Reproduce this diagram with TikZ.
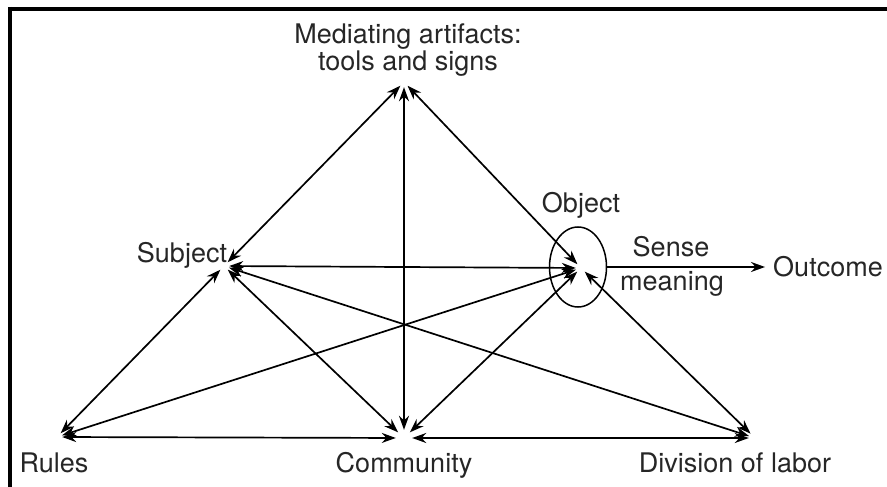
\documentclass[tikz,border=0pt]{standalone}
\usepackage{fontspec}
\setmainfont{TeX Gyre Heros}
\usetikzlibrary{arrows.meta,shapes.geometric}
\begin{document}
\begin{tikzpicture}[x=1pt,y=-1pt,
  pt/.style={circle,inner sep=0pt,minimum size=10pt},
  lbl/.style={inner sep=0pt,font=\fontsize{27}{27}\selectfont,text=black!85},
  conn/.style={line width=1.7pt,{Stealth[length=14pt,width=10pt]}-{Stealth[length=14pt,width=10pt]}},
  one/.style={line width=1.7pt,-{Stealth[length=14pt,width=10pt]}}]
\useasboundingbox (0,0) rectangle (887,487);
% frame
\draw[line width=4pt] (8,9) -- (887,9);
\draw[line width=4pt] (10,7) -- (10,487);
% points
\node[pt] (M) at (404,82) {};
\node[pt] (S) at (224,266) {};
\node[pt] (O) at (581,268) {};
\node[pt] (R) at (57,437) {};
\node[pt,minimum size=16pt] (C) at (404,438) {};
\node[pt,minimum size=12pt] (D) at (755,438) {};
\node[draw,ellipse,line width=1.5pt,minimum width=57pt,minimum height=80pt,inner sep=0pt] (E) at (578,267) {};
% labels
\node[lbl,align=center,font=\fontsize{27}{27}\selectfont] (Ml) at (408,50) {Mediating artifacts:\\tools and signs};
\node[lbl] (Sl) at (182,255) {Subject};
\node[lbl] (Ol) at (581,205) {Object};
\node[lbl] (Se) at (671,247) {Sense};
\node[lbl] (Me) at (672,284) {meaning};
\node[lbl] (Out) at (828,267) {Outcome};
\node[lbl] (Rl) at (54,463) {Rules};
\node[lbl] (Cl) at (404,465) {Community};
\node[lbl] (Dl) at (735,463) {Division of labor};
% connectors
\draw[conn] (M) -- (S);
\draw[conn] (M) -- (O);
\draw[conn] (M) -- (C);
\draw[conn] (S) -- (O);
\draw[conn] (S) -- (R);
\draw[conn] (S) -- (C);
\draw[conn] (S) -- (D);
\draw[conn] (O) -- (R);
\draw[conn] (O) -- (C);
\draw[conn] (O) -- (D);
\draw[conn] (R) -- (C);
\draw[conn] (C) -- (D);
\draw[one,shorten >=8pt] (E.east) -- (Out.west);
\end{tikzpicture}
\end{document}
